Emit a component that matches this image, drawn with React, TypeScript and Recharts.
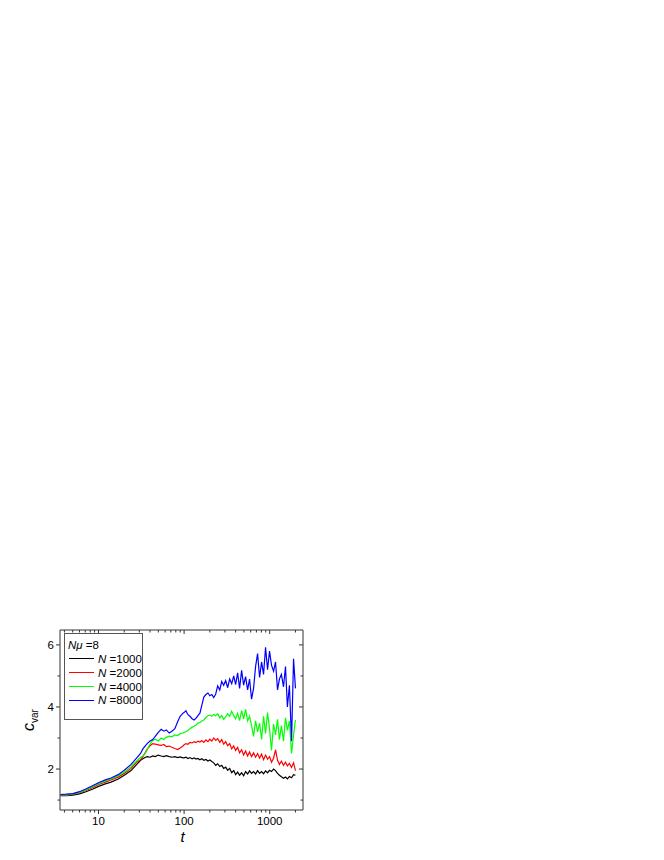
import React from 'react';
import { LineChart, Line, XAxis, YAxis, Legend } from 'recharts';

// time grid (log spaced by hand, denser where the curves get noisy)
const T = [
  3.6, 4.2, 5, 6, 7, 8.5, 10, 12, 14, 17, 20, 24, 28,
  31, 33, 35, 37, 40, 43, 46, 50, 54, 58, 62, 67, 72, 78, 84, 90, 97,
  100, 105, 111, 117, 124, 131, 138, 145, 153, 161, 170, 180, 190, 200, 211, 222, 234, 247, 261, 275,
  290, 306, 323, 341, 360, 380, 400, 422, 445, 470, 496, 523, 552, 582, 614, 648, 684, 722, 762, 804,
  848, 895, 944, 996, 1050, 1110, 1170, 1235, 1300, 1370, 1450, 1530, 1610, 1700, 1800, 1900, 2000,
];

const N1000 = [
  1.14, 1.14, 1.16, 1.2, 1.26, 1.35, 1.44, 1.52, 1.58, 1.68, 1.8, 1.95, 2.15,
  2.28, 2.33, 2.37, 2.4, 2.38, 2.42, 2.4, 2.45, 2.42, 2.4, 2.43, 2.4, 2.38, 2.4, 2.37, 2.39, 2.36,
  2.36, 2.38, 2.34, 2.37, 2.33, 2.36, 2.32, 2.34, 2.3, 2.33, 2.28, 2.31, 2.26, 2.29, 2.24, 2.2, 2.12, 2.17, 2.08, 2.12,
  2.02, 2.06, 1.96, 2.02, 1.88, 1.95, 1.82, 1.9, 1.8, 1.88, 1.78, 1.92, 1.84, 1.94, 1.86, 1.92, 1.84, 1.95, 1.86, 1.92,
  1.85, 1.94, 1.88, 1.96, 1.92, 2.0, 1.95, 1.86, 1.8, 1.75, 1.7, 1.74, 1.68, 1.76, 1.72, 1.82, 1.8,
];

const N2000 = [
  1.16, 1.16, 1.18, 1.23, 1.3, 1.4, 1.5, 1.58, 1.65, 1.74, 1.86, 2.02, 2.22,
  2.3, 2.4, 2.52, 2.64, 2.75, 2.82, 2.8, 2.78, 2.76, 2.79, 2.72, 2.74, 2.7, 2.66, 2.63, 2.68, 2.74,
  2.78, 2.82, 2.8, 2.86, 2.84, 2.88, 2.85, 2.9, 2.87, 2.92, 2.86, 2.94, 2.88, 2.96, 2.9, 3.0, 2.92, 2.98, 2.86, 2.95,
  2.8, 2.88, 2.75, 2.82, 2.65, 2.74, 2.6, 2.7, 2.52, 2.62, 2.45, 2.58, 2.42, 2.55, 2.4, 2.52, 2.38, 2.5, 2.35, 2.48,
  2.3, 2.45, 2.32, 2.4, 2.22, 2.35, 2.62, 2.28, 2.15, 2.25, 2.12, 2.22, 2.1, 2.18, 2.05, 2.2, 1.95,
];

const N4000 = [
  1.17, 1.17, 1.2, 1.25, 1.32, 1.43, 1.53, 1.62, 1.68, 1.78, 1.9, 2.08, 2.26,
  2.38, 2.42, 2.5, 2.62, 2.8, 2.92, 2.96, 2.9, 3.0, 2.95, 3.02, 3.06, 3.04, 3.1, 3.08, 3.14, 3.16,
  3.18, 3.2, 3.24, 3.3, 3.35, 3.38, 3.42, 3.48, 3.5, 3.55, 3.58, 3.66, 3.72, 3.74, 3.7, 3.76, 3.72, 3.78, 3.65, 3.72,
  3.6, 3.68, 3.78, 3.7, 3.86, 3.72, 3.62, 3.8, 3.56, 3.88, 3.62, 3.92, 3.55, 3.7, 3.4, 3.05, 3.55, 3.2, 3.48, 2.95,
  3.7, 3.15, 3.82, 3.3, 2.6, 3.45, 3.1, 3.6, 2.95, 3.4, 2.9, 3.65, 3.25, 3.55, 2.5, 3.1, 3.58,
];

const N8000 = [
  1.18, 1.19, 1.21, 1.27, 1.35, 1.46, 1.56, 1.65, 1.71, 1.82, 1.96, 2.15, 2.36,
  2.5, 2.65, 2.74, 2.82, 2.9, 2.95, 3.05, 3.18, 3.28, 3.22, 3.26, 3.16, 3.22, 3.3, 3.52, 3.7, 3.8,
  3.82, 3.88, 3.75, 3.7, 3.62, 3.58, 3.64, 3.72, 3.8, 4.05, 4.32, 4.4, 4.45, 4.36, 4.4, 4.3, 4.42, 4.68, 4.55, 4.82,
  4.7, 4.85, 4.62, 4.9, 4.75, 5.0, 4.72, 5.1, 4.6, 5.18, 4.7, 4.98, 4.55, 4.9, 4.25, 4.6, 5.3, 5.72, 4.95, 5.45,
  5.05, 5.92, 5.2, 5.8, 5.35, 5.15, 5.45, 4.55, 4.9, 5.05, 4.65, 5.3, 4.0, 4.7, 2.9, 5.55, 4.6,
];

const SERIES = [
  { key: 'n1000', label: '=1000', color: '#000000' },
  { key: 'n2000', label: '=2000', color: '#ff0000' },
  { key: 'n4000', label: '=4000', color: '#00ff00' },
  { key: 'n8000', label: '=8000', color: '#0000ff' },
];

const X_TICKS = [4, 5, 6, 7, 8, 9, 10, 20, 30, 40, 50, 60, 70, 80, 90, 100, 200, 300, 400, 500, 600, 700, 800, 900, 1000, 2000];
const X_MAJOR = [10, 100, 1000];
const Y_TICKS = [1, 2, 3, 4, 5, 6];
const Y_MAJOR = [2, 4, 6];

const data = T.map((t, i) => ({ t, n1000: N1000[i], n2000: N2000[i], n4000: N4000[i], n8000: N8000[i] }));

const FONT = '"Liberation Sans", Arial, sans-serif';
const AXIS = '#333';

const BottomTick = ({ x, y, payload }: any) => {
  const major = X_MAJOR.includes(payload.value);
  return (
    <g>
      <line x1={x} y1={y} x2={x} y2={y + (major ? 4 : 2.5)} stroke={AXIS} />
      {major && (
        <text x={x} y={y + 15} textAnchor="middle" fontSize={11.5} fontFamily={FONT} fill="#000">
          {payload.value}
        </text>
      )}
    </g>
  );
};

const TopTick = ({ x, y, payload }: any) => {
  const major = X_MAJOR.includes(payload.value);
  return <line x1={x} y1={y} x2={x} y2={y + (major ? 4 : 2.5)} stroke={AXIS} />;
};

const LeftTick = ({ x, y, payload }: any) => {
  const major = Y_MAJOR.includes(payload.value);
  return (
    <g>
      <line x1={x} y1={y} x2={x - (major ? 4 : 2.5)} y2={y} stroke={AXIS} />
      {major && (
        <text x={x - 6} y={y + 4} textAnchor="end" fontSize={11.5} fontFamily={FONT} fill="#000">
          {payload.value}
        </text>
      )}
    </g>
  );
};

const RightTick = ({ x, y, payload }: any) => {
  const major = Y_MAJOR.includes(payload.value);
  return <line x1={x} y1={y} x2={x - (major ? 4 : 2.5)} y2={y} stroke={AXIS} />;
};

const LegendBox = () => (
  <div
    style={{
      border: '1px solid #555',
      background: '#fff',
      width: 77,
      height: 81,
      fontFamily: FONT,
      fontSize: 11.5,
      color: '#000',
      boxSizing: 'content-box',
      lineHeight: '14px',
      paddingTop: 4,
    }}
  >
    <div style={{ paddingLeft: 3 }}>
      <i>N</i>
      <i>μ</i> =8
    </div>
    {SERIES.map((s) => (
      <div key={s.key} style={{ display: 'flex', alignItems: 'center', height: 13.8 }}>
        <div style={{ width: 25, height: 0, borderTop: `1.2px solid ${s.color}`, marginLeft: 4, marginRight: 4 }} />
        <span>
          <i>N</i> {s.label}
        </span>
      </div>
    ))}
  </div>
);

export default function App() {
  return (
    <div style={{ position: 'absolute', left: 0, top: 610, width: 330, height: 250 }}>
      <LineChart width={330} height={250} data={data} margin={{ top: 19, left: 59, right: 26, bottom: 49 }}>
        <XAxis
          xAxisId="b"
          dataKey="t"
          type="number"
          scale="log"
          domain={[3.55, 2450]}
          allowDataOverflow
          ticks={X_TICKS}
          interval={0}
          height={1}
          tickSize={0}
          tickMargin={0}
          tickLine={false}
          axisLine={{ stroke: AXIS }}
          tick={<BottomTick />}
          label={({ viewBox }: any) => (
            <text
              x={viewBox.x + viewBox.width / 2 + 1}
              y={viewBox.y + 32}
              textAnchor="middle"
              fontSize={15}
              fontStyle="italic"
              fontFamily={FONT}
              fill="#000"
            >
              t
            </text>
          )}
        />
        <XAxis
          xAxisId="top"
          orientation="top"
          dataKey="t"
          type="number"
          scale="log"
          domain={[3.55, 2450]}
          allowDataOverflow
          ticks={X_TICKS}
          interval={0}
          height={1}
          tickSize={0}
          tickMargin={0}
          tickLine={false}
          axisLine={{ stroke: AXIS }}
          tick={<TopTick />}
        />
        <YAxis
          yAxisId="l"
          type="number"
          domain={[0.68, 6.48]}
          allowDataOverflow
          ticks={Y_TICKS}
          interval={0}
          width={1}
          tickSize={0}
          tickMargin={0}
          tickLine={false}
          axisLine={{ stroke: AXIS }}
          tick={<LeftTick />}
          label={({ viewBox }: any) => {
            const cy = viewBox.y + viewBox.height / 2;
            return (
              <text
                x={34}
                y={cy}
                transform={`rotate(-90, 34, ${cy})`}
                textAnchor="middle"
                fontFamily={FONT}
                fill="#000"
              >
                <tspan fontSize={16} fontStyle="italic">c</tspan>
                <tspan fontSize={10} dy={4}>var</tspan>
              </text>
            );
          }}
        />
        <YAxis
          yAxisId="r"
          orientation="right"
          type="number"
          domain={[0.68, 6.48]}
          allowDataOverflow
          ticks={Y_TICKS}
          interval={0}
          width={1}
          tickSize={0}
          tickMargin={0}
          tickLine={false}
          axisLine={{ stroke: AXIS }}
          tick={<RightTick />}
        />
        <Legend
          layout="vertical"
          align="center"
          verticalAlign="middle"
          content={<LegendBox />}
          wrapperStyle={{ left: 64, top: 23, width: 79, height: 85 }}
        />
        {SERIES.map((s) => (
          <Line
            key={s.key}
            xAxisId="b"
            yAxisId="l"
            dataKey={s.key}
            name={s.label}
            type="linear"
            stroke={s.color}
            strokeWidth={1.2}
            dot={false}
            isAnimationActive={false}
          />
        ))}
      </LineChart>
    </div>
  );
}
